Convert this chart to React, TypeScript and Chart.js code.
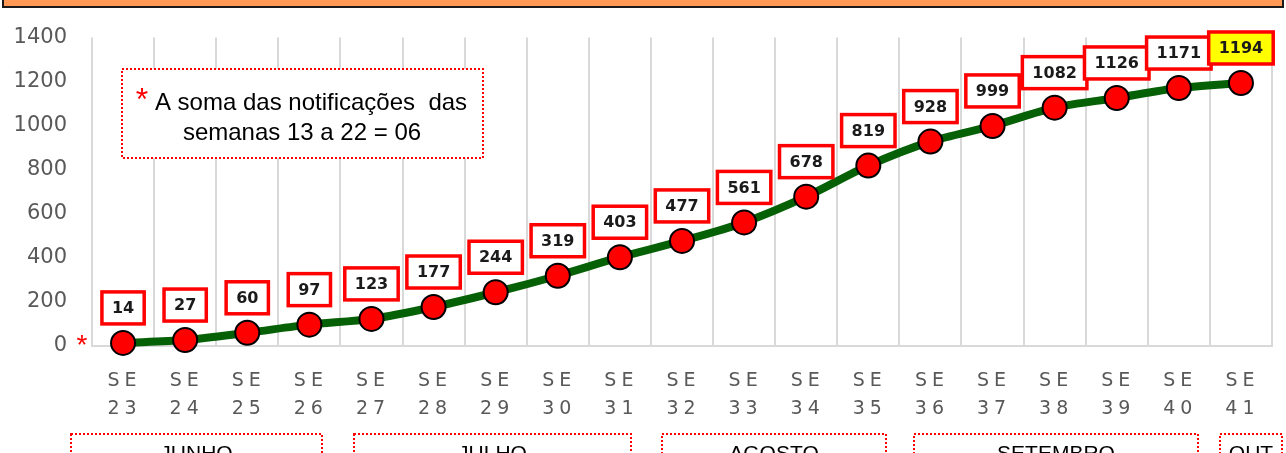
import React, { useEffect, useRef } from "react";
import { Chart, registerables } from "chart.js";

Chart.register(...registerables);

const weeks = ["23","24","25","26","27","28","29","30","31","32","33","34","35","36","37","38","39","40","41"];
const categories = weeks.map((w) => "SE " + w);
const cases = [14, 27, 60, 97, 123, 177, 244, 319, 403, 477, 561, 678, 819, 928, 999, 1082, 1126, 1171, 1194];
const yTicks = [0, 200, 400, 600, 800, 1000, 1200, 1400];
const months = ["JUNHO", "JULHO", "AGOSTO", "SETEMBRO", "OUT"];
const noteLine1 = "A soma das notificações  das";
const noteLine2 = "semanas 13 a 22 = 06";

// layout constants (pixel positions of decorations)
const MONTH_BOX_X: [number, number][] = [[71, 322], [354, 631], [662, 886], [914, 1198], [1220, 1282]];

function dottedRect(ctx: CanvasRenderingContext2D, x: number, y: number, w: number, h: number, fill?: string) {
  ctx.save();
  if (fill) {
    ctx.fillStyle = fill;
    ctx.fillRect(x, y, w, h);
  }
  ctx.strokeStyle = "#ff0000";
  ctx.lineWidth = 2;
  ctx.setLineDash([2, 2]);
  ctx.strokeRect(x, y, w, h);
  ctx.restore();
}

const decorPlugin = {
  id: "decor",
  beforeDatasetsDraw(chart: any) {
    const ctx: CanvasRenderingContext2D = chart.ctx;
    dottedRect(ctx, 122, 69, 361, 89, "#ffffff");
    ctx.save();
    ctx.fillStyle = "#000000";
    ctx.font = '24px "Liberation Sans", Arial, sans-serif';
    ctx.textAlign = "center";
    ctx.textBaseline = "alphabetic";
    ctx.fillText(noteLine1, 311, 110);
    ctx.fillText(noteLine2, 302, 140);
    ctx.fillStyle = "#ff0000";
    ctx.font = '32px "Liberation Sans", Arial, sans-serif';
    ctx.fillText("*", 142, 110);
    ctx.restore();
  },
  afterDatasetsDraw(chart: any) {
    const ctx: CanvasRenderingContext2D = chart.ctx;
    const meta = chart.getDatasetMeta(0);
    ctx.save();
    ctx.font = 'bold 16px "DejaVu Sans", sans-serif';
    ctx.textAlign = "center";
    ctx.textBaseline = "middle";
    meta.data.forEach((pt: any, i: number) => {
      const label = String(cases[i]);
      const tw = ctx.measureText(label).width;
      const w = tw + 20;
      const h = 32;
      const cx = pt.x;
      const cy = pt.y - 35;
      ctx.fillStyle = i === cases.length - 1 ? "#ffff00" : "#ffffff";
      ctx.fillRect(cx - w / 2, cy - h / 2, w, h);
      ctx.strokeStyle = "#ff0000";
      ctx.lineWidth = 3.5;
      ctx.strokeRect(cx - w / 2, cy - h / 2, w, h);
      ctx.fillStyle = "#1a1a1a";
      ctx.fillText(label, cx, cy + 1);
    });
    ctx.restore();
  },
  afterDraw(chart: any) {
    const ctx: CanvasRenderingContext2D = chart.ctx;
    ctx.save();
    ctx.fillStyle = "#ff9955";
    ctx.fillRect(3, -5, 1280, 12);
    ctx.strokeStyle = "#1a1a1a";
    ctx.lineWidth = 2;
    ctx.strokeRect(3, -5, 1280, 12);
    ctx.restore();

    const xs = chart.scales.x;
    ctx.save();
    ctx.fillStyle = "#595959";
    ctx.font = '19px "DejaVu Sans", sans-serif';
    (ctx as any).letterSpacing = "5px";
    ctx.textAlign = "center";
    ctx.textBaseline = "alphabetic";
    weeks.forEach((w, i) => {
      const x = xs.getPixelForValue(i) + 1.5;
      ctx.fillText("SE", x, 386);
      ctx.fillText(w, x, 414);
    });
    ctx.restore();

    ctx.save();
    ctx.fillStyle = "#ff0000";
    ctx.font = '28px "Liberation Sans", Arial, sans-serif';
    ctx.textAlign = "center";
    ctx.fillText("*", 82, 354);
    ctx.restore();

    months.forEach((m, i) => {
      const [x0, x1] = MONTH_BOX_X[i];
      dottedRect(ctx, x0, 434, x1 - x0, 60, "#ffffff");
      ctx.save();
      ctx.fillStyle = "#000000";
      ctx.font = '21px "Liberation Sans", Arial, sans-serif';
      ctx.textAlign = "center";
      ctx.textBaseline = "alphabetic";
      ctx.fillText(m, (x0 + x1) / 2, 460);
      ctx.restore();
    });
  },
};

export default function App() {
  const ref = useRef<HTMLCanvasElement | null>(null);
  useEffect(() => {
    document.body.style.margin = "0";
    if (!ref.current) return;
    const chart = new Chart(ref.current, {
      type: "line",
      data: {
        labels: categories,
        datasets: [
          {
            data: cases,
            borderColor: "#066006",
            borderWidth: 8,
            tension: 0.3,
            pointRadius: 12,
            pointHoverRadius: 12,
            pointBackgroundColor: "#ff0000",
            pointBorderColor: "#000000",
            pointBorderWidth: 2,
            clip: false as any,
          },
        ],
      },
      options: {
        responsive: false,
        animation: false,
        devicePixelRatio: 1,
        layout: { padding: { left: 0, right: 9, top: 34, bottom: 0 } },
        plugins: { legend: { display: false }, tooltip: { enabled: false } },
        scales: {
          x: {
            offset: true,
            grid: { display: true, offset: true, color: "#d9d9d9", lineWidth: 2, drawTicks: false },
            border: { display: true, color: "#d9d9d9", width: 2 },
            ticks: { display: false },
            afterFit(scale: any) {
              scale.height = 107;
            },
          },
          y: {
            min: 0,
            max: 1400,
            grid: { display: false, drawTicks: false },
            border: { display: false },
            afterBuildTicks(scale: any) {
              scale.ticks = yTicks.map((v) => ({ value: v }));
            },
            ticks: {
              padding: 25,
              color: "#595959",
              font: { family: '"DejaVu Sans", sans-serif', size: 21 },
              callback: (v: any) => String(v),
            },
            afterFit(scale: any) {
              scale.width = 92;
            },
          },
        },
      },
      plugins: [decorPlugin],
    });
    return () => chart.destroy();
  }, []);
  return (
    <div style={{ width: 1286, height: 453, position: "relative", overflow: "hidden", background: "#fff" }}>
      <canvas ref={ref} width={1286} height={453} style={{ display: "block" }} />
    </div>
  );
}
